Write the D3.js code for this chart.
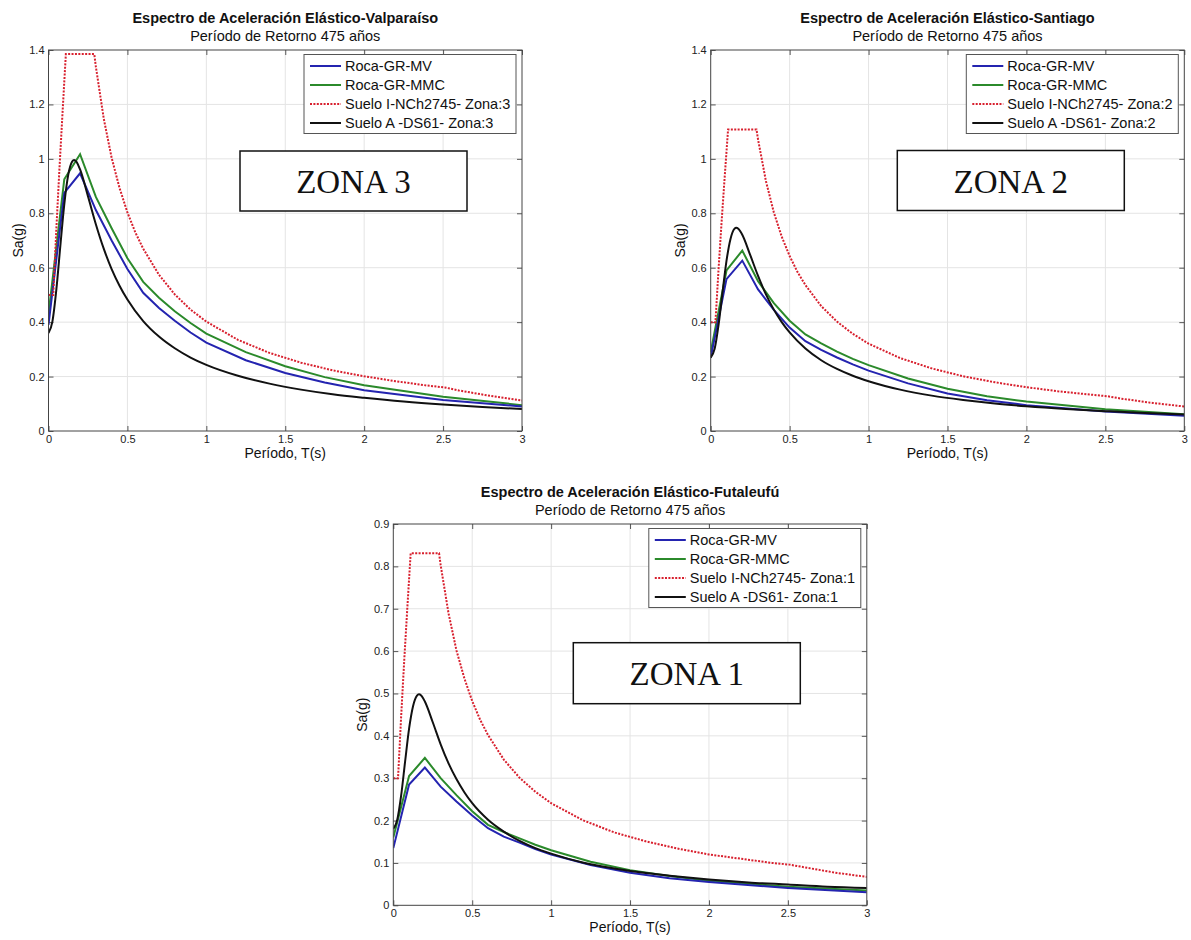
<!DOCTYPE html>
<html>
<head>
<meta charset="utf-8">
<script src="https://cdn.jsdelivr.net/npm/d3@7"></script>
<style>
  html, body { margin: 0; padding: 0; background: #fff; }
  svg { display: block; }
  text { font-family: "Liberation Sans", Arial, sans-serif; }
</style>
</head>
<body>
<script>
// ---------------- DATA ----------------
const xTicks = [0, 0.5, 1, 1.5, 2, 2.5, 3];
const yTicksTop = [0, 0.2, 0.4, 0.6, 0.8, 1, 1.2, 1.4];
const yTicksBottom = [0, 0.1, 0.2, 0.3, 0.4, 0.5, 0.6, 0.7, 0.8, 0.9];

const seriesNames = ["Roca-GR-MV", "Roca-GR-MMC", "Suelo I-NCh2745- Zona:", "Suelo A -DS61- Zona:"];

// Roca-GR (hazard spectra) periods
const periodsRoca = [0, 0.1, 0.2, 0.3, 0.4, 0.5, 0.6, 0.7, 0.8, 0.9, 1.0, 1.25, 1.5, 1.75, 2.0, 2.5, 3.0];
const rocaMV_Z3  = [0.39, 0.875, 0.947, 0.812, 0.70, 0.595, 0.508, 0.452, 0.405, 0.362, 0.325, 0.26, 0.213, 0.178, 0.15, 0.114, 0.09];
const rocaMMC_Z3 = [0.43, 0.925, 1.017, 0.86, 0.745, 0.635, 0.548, 0.49, 0.44, 0.397, 0.358, 0.29, 0.238, 0.198, 0.168, 0.126, 0.095];
const rocaMV_Z2  = [0.27, 0.558, 0.626, 0.52, 0.445, 0.38, 0.33, 0.298, 0.27, 0.245, 0.222, 0.175, 0.138, 0.113, 0.095, 0.072, 0.056];
const rocaMMC_Z2 = [0.29, 0.59, 0.663, 0.55, 0.47, 0.405, 0.355, 0.322, 0.292, 0.265, 0.242, 0.193, 0.155, 0.128, 0.108, 0.08, 0.062];
const rocaMV_Z1  = [0.135, 0.285, 0.325, 0.28, 0.245, 0.212, 0.182, 0.162, 0.148, 0.133, 0.12, 0.095, 0.077, 0.064, 0.055, 0.041, 0.031];
const rocaMMC_Z1 = [0.16, 0.305, 0.348, 0.30, 0.26, 0.222, 0.19, 0.173, 0.158, 0.143, 0.13, 0.103, 0.083, 0.069, 0.058, 0.044, 0.035];

// NCh2745 soil I design spectra
const periodsNCh = [0, 0.03, 0.05, 0.07, 0.09, 0.11, 0.29, 0.30, 0.35, 0.40, 0.45, 0.50, 0.55, 0.60, 0.70, 0.80, 0.90, 1.0, 1.2, 1.4, 1.6, 1.8, 2.0, 2.2, 2.4, 2.51, 2.6, 2.8, 3.0];
const nch_Z3 = [0.5, 0.5, 0.746, 0.971, 1.181, 1.385, 1.385, 1.339, 1.148, 1.004, 0.893, 0.803, 0.730, 0.670, 0.574, 0.502, 0.446, 0.402, 0.335, 0.287, 0.251, 0.223, 0.201, 0.183, 0.167, 0.160, 0.149, 0.129, 0.112];
const nch_Z2 = [0.4, 0.4, 0.597, 0.777, 0.945, 1.108, 1.108, 1.071, 0.918, 0.803, 0.714, 0.643, 0.584, 0.536, 0.459, 0.402, 0.357, 0.321, 0.268, 0.230, 0.201, 0.179, 0.161, 0.146, 0.134, 0.128, 0.119, 0.103, 0.090];
const nch_Z1 = [0.3, 0.3, 0.448, 0.583, 0.709, 0.831, 0.831, 0.803, 0.689, 0.602, 0.536, 0.482, 0.438, 0.402, 0.344, 0.301, 0.268, 0.241, 0.201, 0.172, 0.151, 0.134, 0.120, 0.110, 0.100, 0.096, 0.090, 0.077, 0.067];

// DS61 soil A elastic spectra
const periodsDS61 = [0, 0.025, 0.05, 0.075, 0.1, 0.125, 0.15, 0.1625, 0.175, 0.2, 0.25, 0.3, 0.35, 0.4, 0.45, 0.5, 0.6, 0.7, 0.8, 0.9, 1.0, 1.2, 1.4, 1.6, 1.8, 2.0, 2.25, 2.5, 2.75, 3.0];
const ds61_Z3 = [0.360, 0.403, 0.521, 0.680, 0.833, 0.941, 0.990, 0.996, 0.991, 0.961, 0.863, 0.760, 0.670, 0.595, 0.534, 0.483, 0.404, 0.347, 0.304, 0.270, 0.243, 0.203, 0.174, 0.152, 0.135, 0.122, 0.108, 0.097, 0.088, 0.081];
const ds61_Z2 = [0.270, 0.302, 0.391, 0.510, 0.625, 0.705, 0.743, 0.747, 0.743, 0.721, 0.647, 0.570, 0.502, 0.446, 0.400, 0.362, 0.303, 0.260, 0.228, 0.203, 0.183, 0.152, 0.130, 0.114, 0.101, 0.091, 0.081, 0.073, 0.066, 0.061];
const ds61_Z1 = [0.180, 0.202, 0.260, 0.340, 0.417, 0.470, 0.495, 0.498, 0.496, 0.481, 0.432, 0.380, 0.335, 0.298, 0.267, 0.241, 0.202, 0.174, 0.152, 0.135, 0.122, 0.101, 0.087, 0.076, 0.068, 0.061, 0.054, 0.049, 0.044, 0.041];

// ---------------- LAYOUT ----------------
const W = 1191, H = 940;
const colors = { mv: "#2424b0", mmc: "#2b8a2b", nch: "#d8202e", ds: "#111111" };

const panels = [
  { city: "Valparaíso", zone: 3, left: 48.5, right: 522, top: 50, bottom: 431, yMax: 1.4, yTicks: yTicksTop,
    mv: rocaMV_Z3, mmc: rocaMMC_Z3, nch: nch_Z3, ds: ds61_Z3, box: { dx: 191.5, dy: 101, w: 227, h: 60 } },
  { city: "Santiago", zone: 2, left: 710.7, right: 1184.3, top: 50, bottom: 431, yMax: 1.4, yTicks: yTicksTop,
    mv: rocaMV_Z2, mmc: rocaMMC_Z2, nch: nch_Z2, ds: ds61_Z2, box: { dx: 186.6, dy: 100.5, w: 227, h: 60 } },
  { city: "Futaleufú", zone: 1, left: 393.3, right: 866.8, top: 524, bottom: 905.3, yMax: 0.9, yTicks: yTicksBottom,
    mv: rocaMV_Z1, mmc: rocaMMC_Z1, nch: nch_Z1, ds: ds61_Z1, box: { dx: 180, dy: 118.7, w: 227, h: 61 } }
];

const svg = d3.select("body").append("svg").attr("width", W).attr("height", H);
svg.append("rect").attr("width", W).attr("height", H).attr("fill", "#fff");

const fmt = d3.format("~g");

panels.forEach((p, i) => {
  const x = d3.scaleLinear().domain([0, 3]).range([p.left, p.right]);
  const y = d3.scaleLinear().domain([0, p.yMax]).range([p.bottom, p.top]);
  const g = svg.append("g");
  const cx = (p.left + p.right) / 2;

  // grid
  g.append("g").selectAll("line").data(xTicks.slice(1, -1)).join("line")
    .attr("x1", d => x(d)).attr("x2", d => x(d)).attr("y1", p.top).attr("y2", p.bottom)
    .attr("stroke", "#e4e4e4").attr("stroke-width", 1);
  g.append("g").selectAll("line").data(p.yTicks.slice(1, -1)).join("line")
    .attr("y1", d => y(d)).attr("y2", d => y(d)).attr("x1", p.left).attr("x2", p.right)
    .attr("stroke", "#e4e4e4").attr("stroke-width", 1);

  // axes
  const styleAxis = sel => {
    sel.select(".domain").remove();
    sel.selectAll(".tick line").attr("stroke", "#555");
    sel.selectAll(".tick text").attr("fill", "#222").style("font-size", "11px")
      .style("font-family", "'Liberation Sans', Arial, sans-serif");
  };
  g.append("g").attr("transform", `translate(0,${p.bottom})`)
    .call(d3.axisBottom(x).tickValues(xTicks).tickFormat(fmt).tickSizeInner(-5).tickSizeOuter(0).tickPadding(4))
    .call(styleAxis);
  g.append("g").attr("transform", `translate(0,${p.top})`)
    .call(d3.axisTop(x).tickValues(xTicks).tickFormat("").tickSizeInner(-5).tickSizeOuter(0))
    .call(styleAxis);
  g.append("g").attr("transform", `translate(${p.left},0)`)
    .call(d3.axisLeft(y).tickValues(p.yTicks).tickFormat(fmt).tickSizeInner(-5).tickSizeOuter(0).tickPadding(4))
    .call(styleAxis);
  g.append("g").attr("transform", `translate(${p.right},0)`)
    .call(d3.axisRight(y).tickValues(p.yTicks).tickFormat("").tickSizeInner(-5).tickSizeOuter(0))
    .call(styleAxis);

  // clip
  const clipId = "clip" + i;
  svg.append("clipPath").attr("id", clipId).append("rect")
    .attr("x", p.left).attr("y", p.top - 2).attr("width", p.right - p.left).attr("height", p.bottom - p.top + 2);

  const line = d3.line().x(d => x(d[0])).y(d => y(d[1]));
  const smooth = d3.line().x(d => x(d[0])).y(d => y(d[1])).curve(d3.curveMonotoneX);
  const lines = g.append("g").attr("clip-path", `url(#${clipId})`);
  lines.append("path").datum(d3.zip(periodsRoca, p.mmc)).attr("d", line)
    .attr("fill", "none").attr("stroke", colors.mmc).attr("stroke-width", 2);
  lines.append("path").datum(d3.zip(periodsRoca, p.mv)).attr("d", line)
    .attr("fill", "none").attr("stroke", colors.mv).attr("stroke-width", 2);
  lines.append("path").datum(d3.zip(periodsNCh, p.nch)).attr("d", line)
    .attr("fill", "none").attr("stroke", colors.nch).attr("stroke-width", 2)
    .attr("stroke-dasharray", "2,1.4");
  lines.append("path").datum(d3.zip(periodsDS61, p.ds)).attr("d", smooth)
    .attr("fill", "none").attr("stroke", colors.ds).attr("stroke-width", 2);

  // frame
  g.append("rect").attr("x", p.left).attr("y", p.top).attr("width", p.right - p.left).attr("height", p.bottom - p.top)
    .attr("fill", "none").attr("stroke", "#444").attr("stroke-width", 1);

  // titles
  g.append("text").attr("x", cx).attr("y", p.top - 27).attr("text-anchor", "middle")
    .style("font-size", "14.5px").style("font-weight", "bold").attr("fill", "#111")
    .text("Espectro de Aceleración Elástico-" + p.city);
  g.append("text").attr("x", cx).attr("y", p.top - 9.5).attr("text-anchor", "middle")
    .style("font-size", "14.5px").attr("fill", "#111")
    .text("Período de Retorno 475 años");

  // axis labels
  g.append("text").attr("x", cx).attr("y", p.bottom + 27).attr("text-anchor", "middle")
    .style("font-size", "14px").attr("fill", "#111").text("Período, T(s)");
  g.append("text").attr("transform", `translate(${p.left - 26},${(p.top + p.bottom) / 2}) rotate(-90)`)
    .attr("text-anchor", "middle").style("font-size", "14px").attr("fill", "#111").text("Sa(g)");

  // zone box
  const bx = p.left + p.box.dx, by = p.top + p.box.dy;
  g.append("rect").attr("x", bx).attr("y", by).attr("width", p.box.w).attr("height", p.box.h)
    .attr("fill", "#fff").attr("stroke", "#111").attr("stroke-width", 1.5);
  g.append("text").attr("x", bx + p.box.w / 2).attr("y", by + p.box.h / 2 + 12).attr("text-anchor", "middle")
    .style("font-family", "'Liberation Serif', 'Times New Roman', serif").style("font-size", "33px")
    .attr("fill", "#111").text("ZONA " + p.zone);

  // legend
  const lw = 212, lh = 79;
  const lx = p.right - 6 - lw, ly = p.top + 4.5;
  const leg = g.append("g");
  leg.append("rect").attr("x", lx).attr("y", ly).attr("width", lw).attr("height", lh)
    .attr("fill", "#fff").attr("stroke", "#555").attr("stroke-width", 1);
  const legItems = [
    { label: seriesNames[0], color: colors.mv, dash: null },
    { label: seriesNames[1], color: colors.mmc, dash: null },
    { label: seriesNames[2] + p.zone, color: colors.nch, dash: "2,1.4" },
    { label: seriesNames[3] + p.zone, color: colors.ds, dash: null }
  ];
  legItems.forEach((it, k) => {
    const ry = ly + 11.5 + k * 19;
    leg.append("line").attr("x1", lx + 6).attr("x2", lx + 37).attr("y1", ry).attr("y2", ry)
      .attr("stroke", it.color).attr("stroke-width", 2).attr("stroke-dasharray", it.dash);
    leg.append("text").attr("x", lx + 41).attr("y", ry + 5).style("font-size", "14.5px")
      .attr("fill", "#111").text(it.label);
  });
});
</script>
</body>
</html>
